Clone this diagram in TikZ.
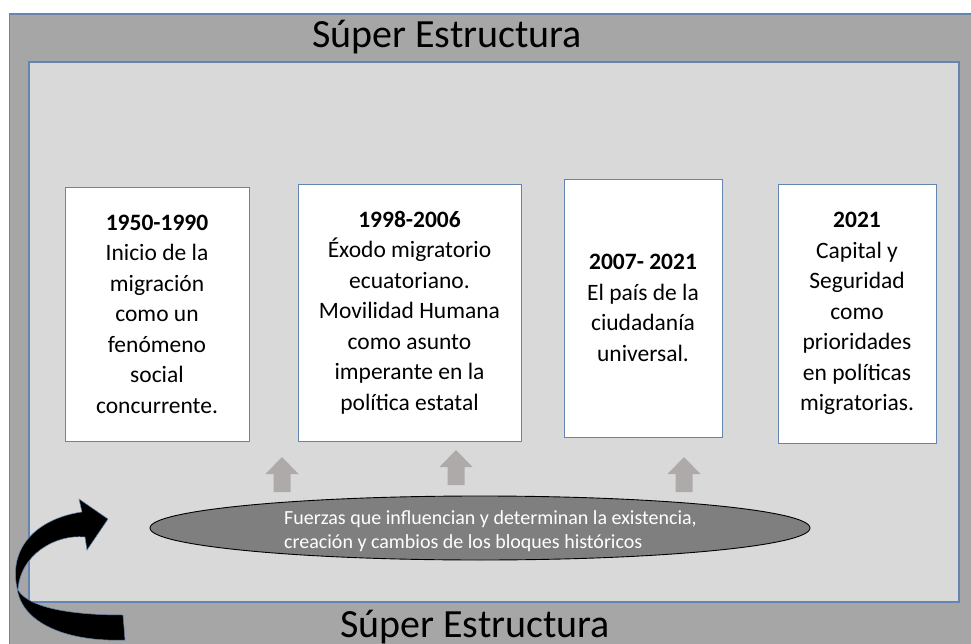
\documentclass[tikz,border=0pt]{standalone}
\usepackage{fontspec}
\setmainfont{Carlito}
\usetikzlibrary{shapes.geometric}
\definecolor{outergray}{HTML}{A6A6A6}
\definecolor{innergray}{HTML}{D9D9D9}
\definecolor{edgeblue}{RGB}{100,133,176}
\definecolor{arrowgray}{RGB}{174,170,170}
\definecolor{ellgray}{HTML}{7F7F7F}
\tikzset{
  frame/.style={draw=edgeblue, line width=1.2pt},
  title/.style={font=\fontsize{40}{48}\selectfont, text=black, inner sep=0pt, anchor=base},
  yearbox/.style={draw=edgeblue, line width=0.9pt, fill=white, align=center, inner sep=0pt,
    font=\fontsize{23.5}{30.5}\selectfont},
  uparrow/.pic={\fill[arrowgray] (-8.5,0) -- (-8.5,-18) -- (-16.5,-18) -- (0,-35) -- (16.5,-18) -- (8.5,-18) -- (8.5,0) -- cycle;}
}
\begin{document}
\begin{tikzpicture}[x=1pt,y=-1pt]
\useasboundingbox (0,0) rectangle (971,644);
\clip (0,0) rectangle (971,644);
\fill[white] (0,0) rectangle (971,644);
% outer and inner frames
\draw[frame, fill=outergray] (9.5,14) rectangle (990,670);
\draw[frame, fill=innergray] (29,62) rectangle (959,602);
% titles
\node[title] (toptitle) at (447,48) {Súper Estructura};
\node[title] (bottomtitle) at (475,637) {Súper Estructura};
% year boxes
\node[yearbox, minimum width=184pt, minimum height=254pt] (b1) at (157,314)
  {\textbf{1950-1990}\\Inicio de la\\migración\\como un\\fenómeno\\social\\concurrente.};
\node[yearbox, minimum width=223pt, minimum height=257pt] (b2) at (409.5,312.5)
  {\textbf{1998-2006}\\Éxodo migratorio\\ecuatoriano.\\Movilidad Humana\\como asunto\\imperante en la\\política estatal};
\node[yearbox, minimum width=158pt, minimum height=258pt] (b3) at (643,308)
  {\textbf{2007- 2021}\\El país de la\\ciudadanía\\universal.};
\node[yearbox, minimum width=158pt, minimum height=259pt] (b4) at (857,313.5)
  {\textbf{2021}\\Capital y\\Seguridad\\como\\prioridades\\en políticas\\migratorias.};
% up arrows
\pic at (282,492) {uparrow};
\pic at (456,485) {uparrow};
\pic at (684,492) {uparrow};
% ellipse
\node[ellipse, draw=black, line width=0.9pt, fill=ellgray, minimum width=660pt, minimum height=64pt, inner sep=0pt] (fuerzas) at (480,528) {};
\node[anchor=west, align=left, text=white, inner sep=0pt, font=\fontsize{20}{24}\selectfont] (fuerzastxt) at (284,531)
  {Fuerzas que influencian y determinan la existencia,\\creación y cambios de los bloques históricos};
% curved ribbon arrow
\filldraw[fill=black, draw=edgeblue, line width=0.5pt]
  (82,512) -- (79,499) -- (108,519) -- (87,550) -- (85,537)
  .. controls (55,534) and (20,555) .. (18,590)
  .. controls (30,610) and (80,615) .. (123,615)
  -- (125,640)
  .. controls (70,642) and (22,625) .. (17,588)
  .. controls (8,545) and (40,518) .. (82,512) -- cycle;
\end{tikzpicture}
\end{document}
